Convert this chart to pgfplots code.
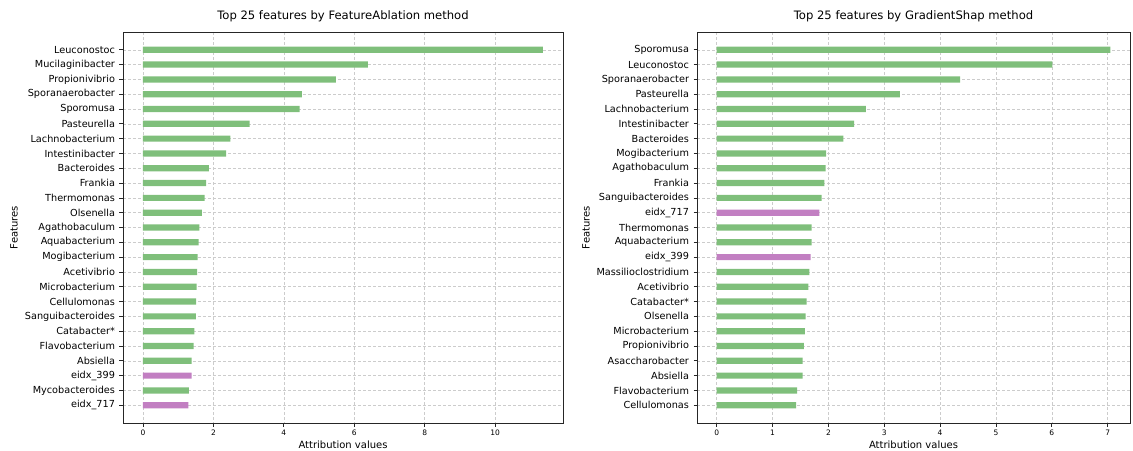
\documentclass[border=0pt]{standalone}
\usepackage{pgfplots}
\pgfplotsset{compat=1.18}
\usepackage{pgfplotstable}
\usepackage{fontspec}
\setmainfont{DejaVu Sans}
\definecolor{barG}{RGB}{127,191,123}
\definecolor{barP}{RGB}{194,127,194}

% left panel (FeatureAblation): index value
\pgfplotstableread{
idx val
0 11.36
1 6.39
2 5.48
3 4.51
4 4.45
5 3.03
6 2.48
7 2.36
8 1.87
9 1.79
10 1.75
11 1.67
12 1.60
13 1.58
14 1.55
15 1.54
16 1.52
17 1.51
18 1.50
19 1.46
20 1.44
21 1.38
23 1.30
}\leftG
\pgfplotstableread{
idx val
22 1.38
24 1.29
}\leftP
% right panel (GradientShap)
\pgfplotstableread{
idx val
0 7.05
1 6.01
2 4.36
3 3.28
4 2.67
5 2.46
6 2.27
7 1.96
8 1.95
9 1.93
10 1.88
12 1.70
13 1.70
15 1.66
16 1.64
17 1.61
18 1.59
19 1.58
20 1.56
21 1.54
22 1.54
23 1.44
24 1.42
}\rightG
\pgfplotstableread{
idx val
11 1.84
14 1.68
}\rightP

\pgfplotsset{
  myaxis/.style={
    scale only axis,
    anchor=south west,
    height=391pt,
    xbar, bar shift=0pt, bar width=0.42,
    y dir=reverse,
    ymin=-1.2, ymax=25.2,
    ytick={0,...,24},
    xmin=0,
    grid=major,
    major grid style={densely dashed, black!20, line width=0.5pt},
    axis line style={black!85, line width=0.9pt},
    tick style={black!85, line width=0.7pt},
    tick align=outside,
    major tick length=3.5pt,
    xtick pos=bottom, ytick pos=left,
    /pgf/number format/assume math mode=true,
    yticklabel style={font=\fontsize{9.7}{11}\selectfont, xshift=-1pt},
    xticklabel style={font=\fontsize{7.5}{9}\selectfont},
    xlabel={Attribution values},
    ylabel={Features},
    xlabel style={font=\fontsize{10}{12}\selectfont, yshift=2pt},
    title style={font=\fontsize{11.6}{13}\selectfont, yshift=1pt},
  },
  gbar/.style={fill=barG, draw=none},
  pbar/.style={fill=barP, draw=none},
}

\begin{document}
\begin{tikzpicture}
\useasboundingbox (0,0) rectangle (1133pt,450pt);
\begin{axis}[myaxis,
  at={(123pt,27pt)}, width=440pt,
  xmin=-0.568, xmax=11.93,
  xtick={0,2,4,6,8,10},
  yticklabels={Leuconostoc,Mucilaginibacter,Propionivibrio,Sporanaerobacter,Sporomusa,Pasteurella,Lachnobacterium,Intestinibacter,Bacteroides,Frankia,Thermomonas,Olsenella,Agathobaculum,Aquabacterium,Mogibacterium,Acetivibrio,Microbacterium,Cellulomonas,Sanguibacteroides,Catabacter*,Flavobacterium,Absiella,eidx\_399,Mycobacteroides,eidx\_717},
  every axis y label/.style={at={(axis description cs:-0.2477,0.5)}, rotate=90, anchor=center, font=\fontsize{10}{12}\selectfont},
  title={Top 25 features by FeatureAblation method},
]
\addplot[gbar] table[x=val,y=idx]{\leftG};
\addplot[pbar] table[x=val,y=idx]{\leftP};
\end{axis}
\begin{axis}[myaxis,
  at={(697pt,27pt)}, width=433pt,
  xmin=-0.3525, xmax=7.40,
  xtick={0,1,2,3,4,5,6,7},
  yticklabels={Sporomusa,Leuconostoc,Sporanaerobacter,Pasteurella,Lachnobacterium,Intestinibacter,Bacteroides,Mogibacterium,Agathobaculum,Frankia,Sanguibacteroides,eidx\_717,Thermomonas,Aquabacterium,eidx\_399,Massilioclostridium,Acetivibrio,Catabacter*,Olsenella,Microbacterium,Propionivibrio,Asaccharobacter,Absiella,Flavobacterium,Cellulomonas},
  every axis y label/.style={at={(axis description cs:-0.2564,0.5)}, rotate=90, anchor=center, font=\fontsize{10}{12}\selectfont},
  title={Top 25 features by GradientShap method},
]
\addplot[gbar] table[x=val,y=idx]{\rightG};
\addplot[pbar] table[x=val,y=idx]{\rightP};
\end{axis}
\end{tikzpicture}
\end{document}
